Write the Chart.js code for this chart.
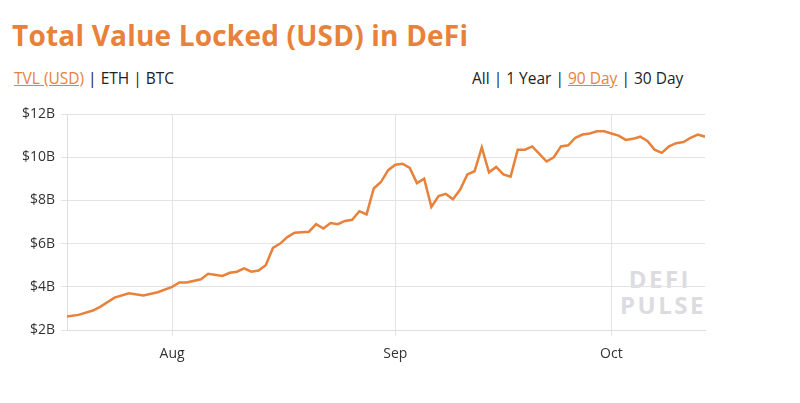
<!DOCTYPE html>
<html><head><meta charset="utf-8">
<script src="https://cdn.jsdelivr.net/npm/chart.js@4"></script>
<style>
body{margin:0;width:800px;height:403px;background:#fff;font-family:"Open Sans",sans-serif;position:relative;overflow:hidden}
#t{position:absolute;left:12px;top:16px;font-size:28px;font-weight:bold;color:#e8813a;font-family:"Open Sans";letter-spacing:0.2px}
.nav{position:absolute;top:67px;font-size:15.5px;color:#222}
.nav u{color:#e8813a;text-decoration:underline}
#wm{position:absolute;left:620px;top:266px;font-size:24px;font-weight:bold;color:#dcdce0;line-height:26px;letter-spacing:2.5px;text-align:left}
canvas{position:absolute;left:0;top:0}
</style></head><body>
<div id="t">Total Value Locked (USD) in DeFi</div>
<div class="nav" style="left:14px"><u>TVL (USD)</u> | ETH | BTC</div>
<div class="nav" style="left:472px">All | 1 Year | <u>90 Day</u> | 30 Day</div>
<div id="wm">&nbsp;DEFI<br>PULSE</div>
<canvas id="c" width="800" height="403"></canvas>
<script>
const days=[-15,-13,-11,-10,-8,-6,-4,-2,0,1,2,4,5,7,8,9,10,11,12,13,14,15,16,17,19,20,21,22,23,24,25,26,27,28,29,30,31,32,33,34,35,36,37,38,39,40,41,42,43,44,45,46,47,48,49,50,51,52,53,54,55,56,57,58,59,60,61,62,63,64,65,66,67,68,69,70,71,72,73,74];
const tvl=[2.6,2.7,2.9,3.07,3.5,3.7,3.6,3.75,4.0,4.2,4.2,4.35,4.6,4.5,4.65,4.7,4.85,4.7,4.75,5.0,5.8,6.0,6.3,6.5,6.55,6.9,6.7,6.95,6.9,7.05,7.1,7.5,7.35,8.55,8.85,9.4,9.65,9.7,9.5,8.8,9.0,7.7,8.2,8.3,8.05,8.5,9.2,9.35,10.45,9.3,9.55,9.2,9.1,10.35,10.35,10.5,10.15,9.8,10.0,10.5,10.55,10.9,11.05,11.1,11.2,11.2,11.1,11.0,10.8,10.85,10.95,10.75,10.35,10.2,10.5,10.65,10.7,10.9,11.05,10.95];
const monthTicks=[0,31,61];
const monthLabels=['Aug','Sep','Oct'];
const yTicks=[2,4,6,8,10,12];
const orange='#e8813a';
new Chart(document.getElementById('c'),{type:'line',
data:{datasets:[{data:days.map((d,i)=>({x:d,y:tvl[i]})),borderColor:orange,borderWidth:2.5,pointRadius:0,tension:0,fill:false}]},
options:{responsive:false,animation:false,
layout:{padding:{left:0,right:95,top:114,bottom:33}},
plugins:{legend:{display:false},tooltip:{enabled:false}},
scales:{
x:{type:'linear',min:-14.6,max:74,afterBuildTicks:a=>{a.ticks=monthTicks.map(v=>({value:v}));},
 afterFit:a=>{a.height=40},
 ticks:{callback:(v)=>monthLabels[monthTicks.indexOf(v)],color:'#333',font:{size:14,family:'Open Sans'},padding:10,maxRotation:0},
 grid:{color:'#e3e3e3',drawTicks:true,tickLength:6},border:{color:'#ddd'}},
y:{min:2,max:12,afterBuildTicks:a=>{a.ticks=yTicks.map(v=>({value:v}));},
 afterFit:a=>{a.width=67},
 ticks:{callback:v=>'$'+v+'B',color:'#333',font:{size:14,family:'Open Sans'},padding:6},
 grid:{color:'#e3e3e3',tickLength:6},border:{color:'#ddd'}}
}}});
</script></body></html>
